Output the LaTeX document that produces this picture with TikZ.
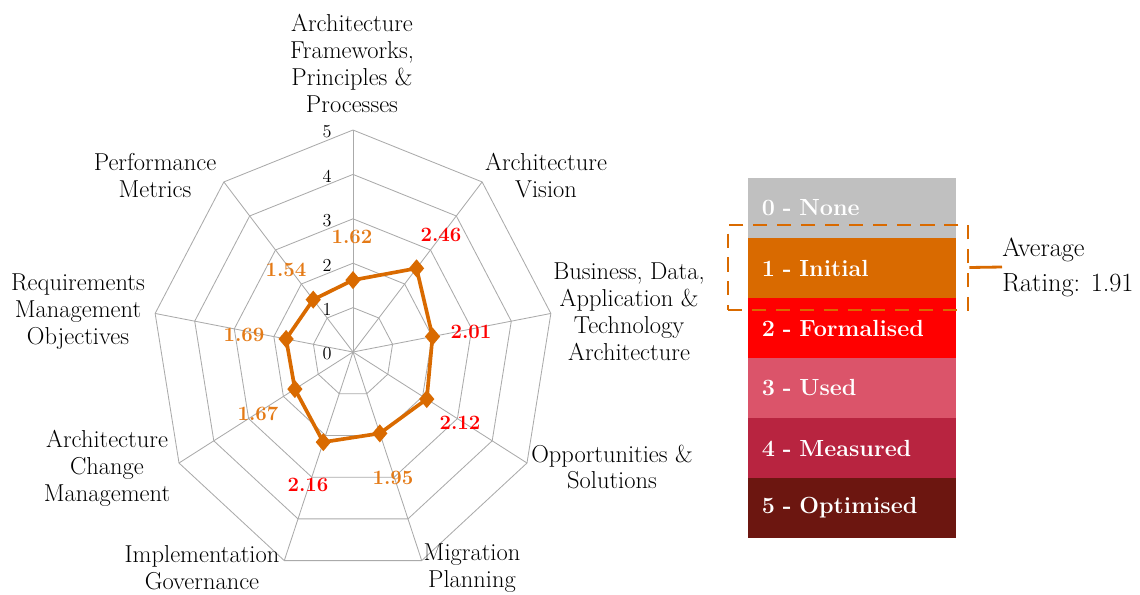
\documentclass[tikz,border=0pt]{standalone}
\usepackage{fontspec}
\usetikzlibrary{shapes.geometric}
\definecolor{webgray}{RGB}{170,170,170}
\definecolor{chartorange}{RGB}{217,106,0}
\definecolor{loworange}{RGB}{228,122,22}
\definecolor{highred}{RGB}{255,0,0}
\definecolor{levnone}{RGB}{192,192,192}
\definecolor{levinitial}{RGB}{217,106,0}
\definecolor{levformal}{RGB}{255,0,0}
\definecolor{levused}{RGB}{219,84,106}
\definecolor{levmeasured}{RGB}{184,36,64}
\definecolor{levoptimised}{RGB}{108,22,16}
\begin{document}
\begin{tikzpicture}[x=0.025cm,y=-0.025cm,
    webline/.style={draw=webgray,line width=0.6pt},
    dataline/.style={draw=chartorange,line width=2.6pt,line join=round},
    dmd/.style={diamond,fill=chartorange,inner sep=0pt,minimum width=11pt,minimum height=13pt},
    axislbl/.style={align=center,inner sep=0pt,font=\fontsize{17.4}{19.2}\selectfont},
    scalelbl/.style={inner sep=0pt,font=\fontsize{13}{15}\selectfont},
    lowval/.style={inner sep=0pt,text=loworange,font=\fontsize{14.5}{16}\selectfont\bfseries},
    highval/.style={inner sep=0pt,text=highred,font=\fontsize{14.5}{16}\selectfont\bfseries},
    legrow/.style={minimum height=1.5cm,text width=4.5cm,inner xsep=0.35cm,align=left,
        text=white,font=\fontsize{16.6}{18}\selectfont\bfseries},
    avgframe/.style={draw=chartorange,line width=2pt,dash pattern=on 10pt off 7pt,
        minimum width=6cm,minimum height=2.125cm,inner sep=0pt},
    avglbl/.style={align=left,inner sep=0pt,font=\fontsize{18.7}{25}\selectfont}]
\useasboundingbox (0,0) rectangle (1140,594);
\begin{scope}[shift={(353,352)},xscale=0.905]
    \foreach \k in {1,...,5}
        \draw[webline] (-90:44.4*\k) \foreach \i in {1,...,8} { -- (40*\i-90:44.4*\k) } -- cycle;
    \foreach \i in {0,...,8}
        \draw[webline] (0,0) -- (40*\i-90:222);
    \foreach \v [count=\i from 0] in {1.62,2.46,2.01,2.12,1.95,2.16,1.67,1.69,1.54}
        \coordinate (p\i) at (40*\i-90:44.4*\v);
    \draw[dataline] (p0) -- (p1) -- (p2) -- (p3) -- (p4) -- (p5) -- (p6) -- (p7) -- (p8) -- cycle;
    \foreach \i in {0,...,8}
        \node[dmd] (m\i) at (p\i) {};
\end{scope}
\foreach \k in {0,...,5}
    \draw (327,354-44.4*\k) node[scalelbl] (s\k) {\k};
\draw (352,237) node[lowval] (v0) {1.62};
\draw (441,235) node[highval] (v1) {2.46};
\draw (471,332) node[highval] (v2) {2.01};
\draw (460,423) node[highval] (v3) {2.12};
\draw (393,478) node[lowval] (v4) {1.95};
\draw (308,485) node[highval] (v5) {2.16};
\draw (258,414) node[lowval] (v6) {1.67};
\draw (244,335) node[lowval] (v7) {1.69};
\draw (286,270) node[lowval] (v8) {1.54};
\draw (352,63) node[axislbl] (a0) {Architecture\\Frameworks,\\Principles \&\\Processes};
\draw (546,176) node[axislbl] (a1) {Architecture\\Vision};
\draw (629,312) node[axislbl] (a2) {Business, Data,\\Application \&\\Technology\\Architecture};
\draw (612,467) node[axislbl] (a3) {Opportunities \&\\Solutions};
\draw (472,568) node[axislbl] (a4) {Migration\\Planning};
\draw (202,568) node[axislbl] (a5) {Implementation\\Governance};
\draw (107,468) node[axislbl] (a6) {Architecture\\Change\\Management};
\draw (78,312) node[axislbl] (a7) {Requirements\\Management\\Objectives};
\draw (155,176) node[axislbl] (a8) {Performance\\Metrics};
\foreach \lbl/\col [count=\k from 0] in {0 - None/levnone,1 - Initial/levinitial,
        2 - Formalised/levformal,3 - Used/levused,4 - Measured/levmeasured,5 - Optimised/levoptimised}
    \node[legrow,fill=\col] (l\k) at (852,208+60*\k) {\lbl};
\node[avgframe] (avgbox) at (848,267.5) {};
\node[avglbl,anchor=west] (avg) at (1002,267) {Average\\Rating: 1.91};
\draw[chartorange,line width=2pt] (avgbox.east) -- (avg.west);
\end{tikzpicture}
\end{document}
